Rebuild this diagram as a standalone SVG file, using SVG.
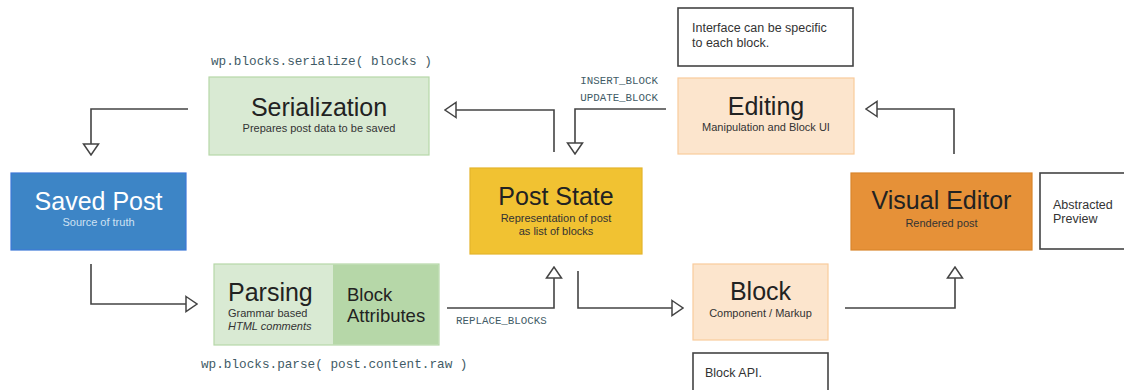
<svg xmlns="http://www.w3.org/2000/svg" width="1124" height="390" viewBox="0 0 1124 390">
<style>
.t{font-family:"Liberation Sans",Arial,sans-serif;fill:#222}
.title{font-size:25px;text-anchor:middle}
.sub{font-size:11px;text-anchor:middle;fill:#333}
.note{font-size:12.5px;fill:#333}
.mono{font-family:"Liberation Mono","DejaVu Sans Mono",monospace;fill:#3f5b66}
.edge{fill:none;stroke:#444;stroke-width:1.6}
.box{stroke-width:1.2}
.white{fill:#fff;stroke:#444;stroke-width:1.6}
</style>
<defs>
<marker id="ah" viewBox="0 0 13 18" refX="12" refY="9" markerWidth="13" markerHeight="18" markerUnits="userSpaceOnUse" orient="auto">
<path d="M1,1.5 L12,9 L1,16.5 Z" fill="#fff" stroke="#444" stroke-width="1.5" stroke-linejoin="miter"/>
</marker>
</defs>
<rect width="1124" height="390" fill="#fff"/>

<g id="connectors">
<path class="edge" d="M188,109 H91 V155" marker-end="url(#ah)"/>
<path class="edge" d="M91,264 V304 H197" marker-end="url(#ah)"/>
<path class="edge" d="M447,308 H554 V267" marker-end="url(#ah)"/>
<path class="edge" d="M578,271 V308 H683" marker-end="url(#ah)"/>
<path class="edge" d="M845,308 H955 V267" marker-end="url(#ah)"/>
<path class="edge" d="M954,154 V109 H866" marker-end="url(#ah)"/>
<path class="edge" d="M666,109 H575 V154" marker-end="url(#ah)"/>
<path class="edge" d="M554,152 V110 H445" marker-end="url(#ah)"/>
<text class="mono" x="658" y="84" font-size="10.8" text-anchor="end">INSERT_BLOCK</text>
<text class="mono" x="658" y="101" font-size="10.8" text-anchor="end">UPDATE_BLOCK</text>
<text class="mono" x="456" y="324" font-size="10.8">REPLACE_BLOCKS</text>
</g>

<g id="serialization">
<text class="mono" x="211" y="65" font-size="12.7">wp.blocks.serialize( blocks )</text>
<rect class="box" x="209" y="77" width="220" height="78" fill="#d9ead3" stroke="#b6d7a8"/>
<text class="t title" x="319" y="116">Serialization</text>
<text class="t sub" x="319" y="132">Prepares post data to be saved</text>
</g>

<g id="saved-post">
<rect class="box" x="11" y="173" width="175" height="77" fill="#3d85c6" stroke="#3c78d8"/>
<text class="t title" x="98.5" y="210" style="fill:#fff">Saved Post</text>
<text class="t sub" x="98.5" y="226" style="fill:#cfe2f3">Source of truth</text>
</g>

<g id="parsing">
<rect class="box" x="214" y="264" width="225" height="81" fill="#d9ead3" stroke="#b6d7a8"/>
<rect x="333" y="264.6" width="105.4" height="79.8" fill="#b6d7a8"/>
<text class="t" x="228" y="301" font-size="25">Parsing</text>
<text class="t" x="228" y="317" font-size="11" style="fill:#333">Grammar based</text>
<text class="t" x="228" y="330" font-size="11" font-style="italic" style="fill:#333">HTML comments</text>
<text class="t" x="347" y="301" font-size="18.5">Block</text>
<text class="t" x="347" y="322" font-size="18.5">Attributes</text>
<text class="mono" x="201" y="368" font-size="12.7">wp.blocks.parse( post.content.raw )</text>
</g>

<g id="post-state">
<rect class="box" x="470" y="168" width="172" height="86" fill="#f1c232" stroke="#e5b42a"/>
<text class="t title" x="556" y="205">Post State</text>
<text class="t sub" x="556" y="222">Representation of post</text>
<text class="t sub" x="556" y="235">as list of blocks</text>
</g>

<g id="block">
<rect class="box" x="693" y="264" width="135" height="76" fill="#fce5cd" stroke="#f9cb9c"/>
<text class="t title" x="760.5" y="300">Block</text>
<text class="t sub" x="760.5" y="317">Component / Markup</text>
</g>

<g id="block-api">
<rect class="white" x="693" y="353" width="135" height="45"/>
<text class="t note" x="705" y="377">Block API.</text>
</g>

<g id="editing">
<rect class="box" x="678" y="78" width="176" height="76" fill="#fce5cd" stroke="#f9cb9c"/>
<text class="t title" x="766" y="115">Editing</text>
<text class="t sub" x="766" y="131">Manipulation and Block UI</text>
</g>

<g id="interface-note">
<rect class="white" x="678" y="8" width="175" height="58"/>
<text class="t note" x="692" y="32">Interface can be specific</text>
<text class="t note" x="692" y="47">to each block.</text>
</g>

<g id="visual-editor">
<rect class="box" x="851" y="173" width="181" height="77" fill="#e69138" stroke="#d9852c"/>
<text class="t title" x="941.5" y="209">Visual Editor</text>
<text class="t sub" x="941.5" y="227">Rendered post</text>
</g>

<g id="abstracted-preview">
<rect class="white" x="1040" y="173" width="100" height="76"/>
<text class="t note" x="1053" y="209">Abstracted</text>
<text class="t note" x="1053" y="223">Preview</text>
</g>
</svg>
